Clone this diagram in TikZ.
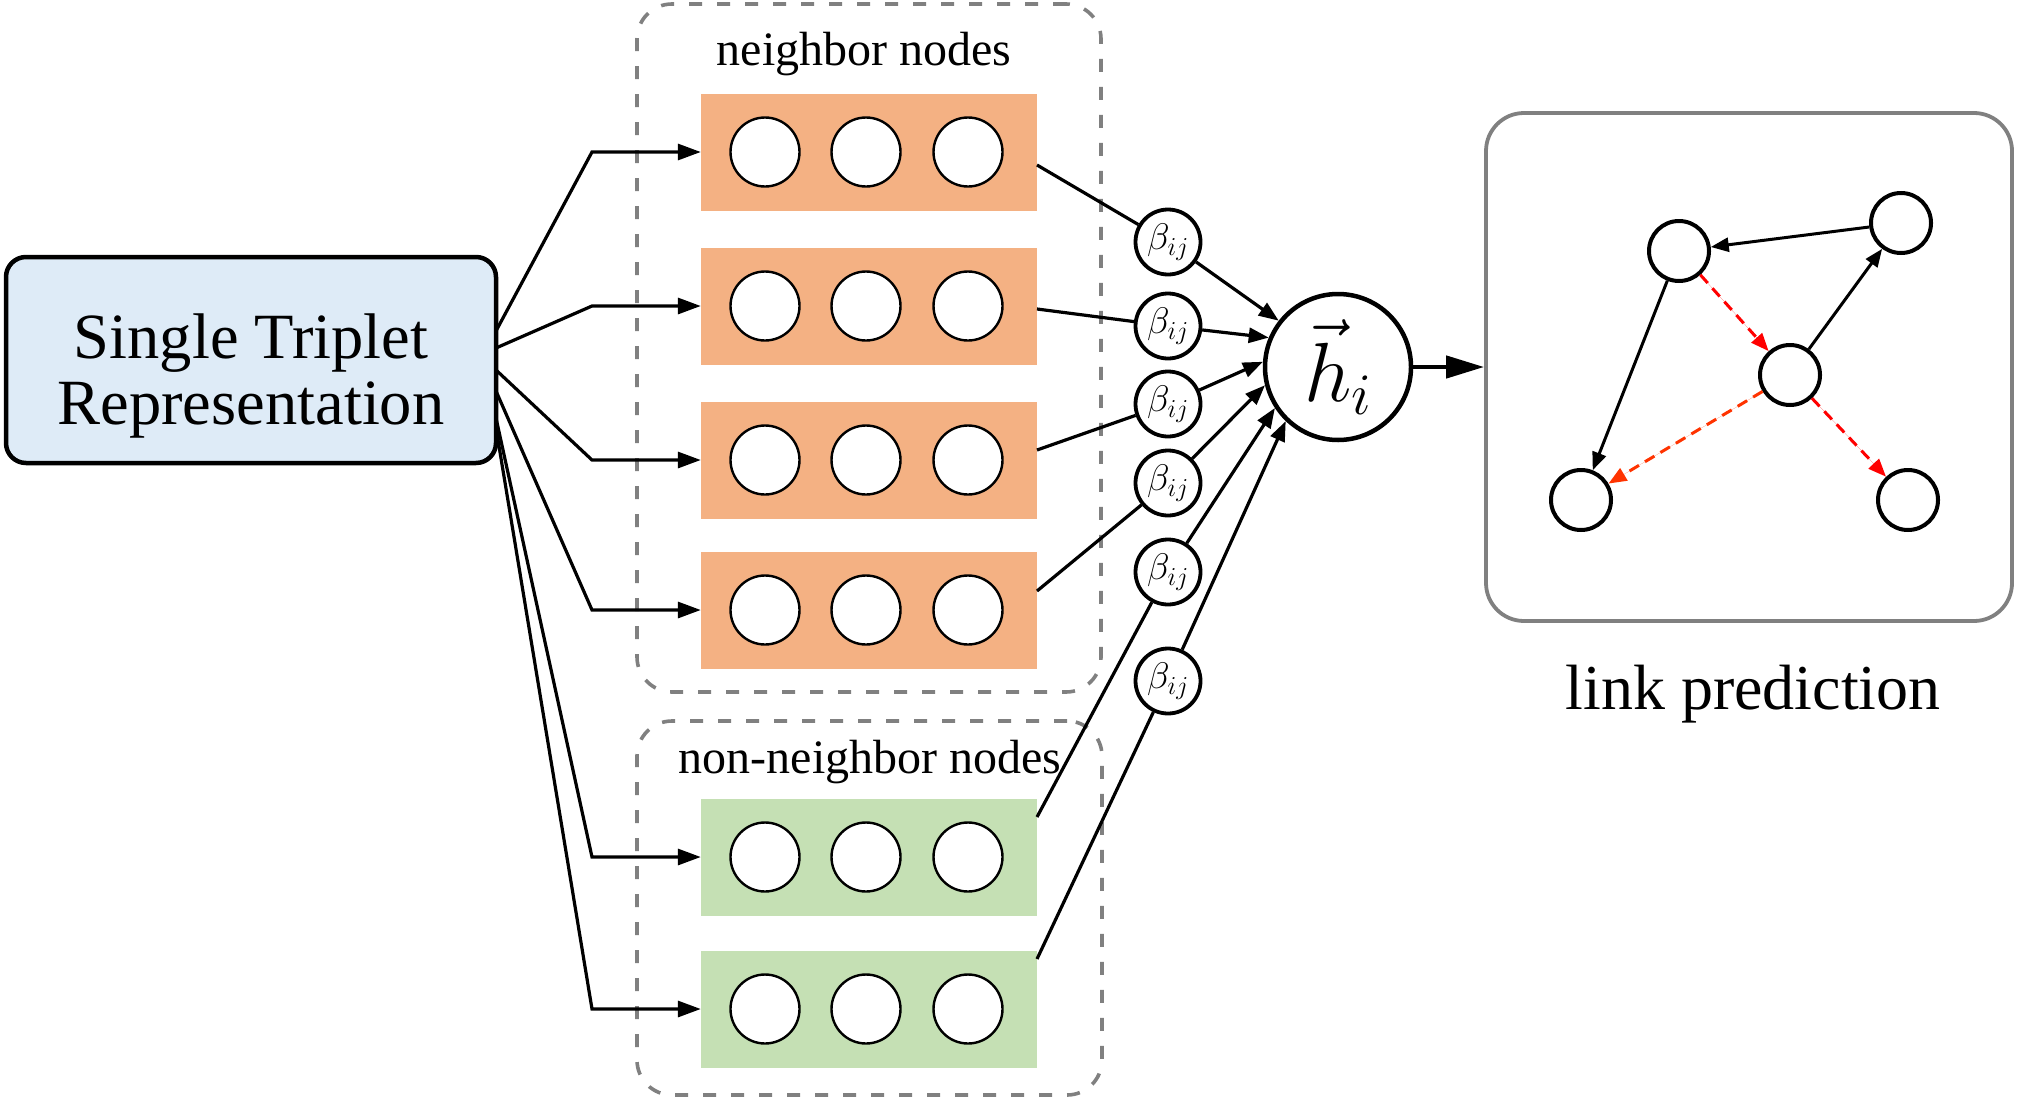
\RequirePackage{fix-cm}
\documentclass[tikz,border=0pt]{standalone}
\usepackage[no-math]{fontspec}
\setmainfont{Liberation Serif}
\usetikzlibrary{arrows.meta,calc}
\definecolor{boxblue}{HTML}{DEEBF7}
\definecolor{orng}{HTML}{F4B183}
\definecolor{grn}{HTML}{C5E0B4}
\definecolor{gry}{HTML}{808080}
\definecolor{redA}{HTML}{FF0000}
\definecolor{redB}{HTML}{FF3300}
\begin{document}
\begin{tikzpicture}[x=1pt,y=-1pt,
  conn/.style={line width=3.2pt},
  arr/.style={conn,-{Triangle[length=23pt,width=16pt]}},
  arrb/.style={conn,-{Triangle[length=20pt,width=15pt]}},
  garr/.style={line width=3pt,-{Triangle[length=18pt,width=14pt]}},
  gdash/.style={garr,dash pattern=on 11pt off 7pt},
  grp/.style={draw=gry,line width=3.6pt,dash pattern=on 13pt off 15pt,rounded corners=35pt,inner sep=0pt},
  lbl/.style={font=\fontsize{48}{56}\selectfont,inner sep=0pt},
  big/.style={font=\fontsize{64.5}{70}\selectfont,inner sep=0pt},
  vecbox/.style={rectangle,minimum width=336pt,minimum height=117pt,inner sep=0pt},
  unit/.style={circle,draw,fill=white,line width=2.4pt,minimum size=69pt,inner sep=0pt},
  bnode/.style={circle,draw,fill=white,line width=3.8pt,minimum size=65pt,inner sep=0pt,font=\fontsize{37}{42}\selectfont},
  gnode/.style={circle,draw,fill=white,line width=4pt,minimum size=60pt,inner sep=0pt}
]
\useasboundingbox (0,0) rectangle (2018,1100);

% dashed groups
\node[grp,minimum width=464pt,minimum height=688pt] (gN) at (869,348) {};
\node[grp,minimum width=465pt,minimum height=374pt] (gO) at (869.5,908) {};
\node[lbl,anchor=base] (tN) at (864,65) {neighbor nodes};
\node[lbl,anchor=base] (tO) at (870,773) {non-neighbor nodes};

% rows
\foreach \n/\y/\c in {r1/152/orng,r2/306/orng,r3/460/orng,r4/610/orng,g1/857/grn,g2/1009/grn}{
  \node[vecbox,fill=\c] (\n) at (869,\y) {};
  \node[unit] (\n-a) at (765,\y) {};
  \node[unit] (\n-b) at (866,\y) {};
  \node[unit] (\n-c) at (968,\y) {};
}

% left box
\node[rectangle,draw,fill=boxblue,line width=4.5pt,rounded corners=20pt,minimum width=490pt,minimum height=206pt,inner sep=0pt] (stb) at (251,360) {};
\node[big,anchor=base] (stb1) at (251,358) {Single Triplet};
\node[big,anchor=base] (stb2) at (251,424) {Representation};

\coordinate (s1) at (496,331);
\coordinate (s2) at (496,348);
\coordinate (s3) at (496,370);
\coordinate (s4) at (496,391);
\coordinate (s5) at (496,418);
\coordinate (s6) at (496,428);
\coordinate (elb) at (592,0);
\foreach \s/\n in {s1/r1,s2/r2,s3/r3,s4/r4,s5/g1,s6/g2}{
  \draw[arr] (\s) -- (\n.west -| elb) -- (\n.west);
}

% h_i
\node[circle,draw,fill=white,line width=4.5pt,minimum size=146pt,inner sep=0pt,font=\fontsize{84}{96}\selectfont] (hi) at (1338,367) {$\vec{h}_i$};

% beta nodes
\node[bnode] (b1) at (1168,242) {$\beta_{ij}$};
\node[bnode] (b2) at (1168,326) {$\beta_{ij}$};
\node[bnode] (b3) at (1168,404) {$\beta_{ij}$};
\node[bnode] (b4) at (1168,483) {$\beta_{ij}$};
\node[bnode] (b5) at (1168,572) {$\beta_{ij}$};
\node[bnode] (b6) at (1168,681) {$\beta_{ij}$};

\coordinate (o1) at (1037,165);
\coordinate (o2) at (1037,309);
\coordinate (o3) at (1037,450);
\coordinate (o4) at (1037,591);
\coordinate (o5) at (1037,817);
\coordinate (o6) at (1037,959);

\foreach \o/\b/\a in {o1/b1/142,o2/b2/157,o3/b3/176,o4/b4/194,o5/b5/213,o6/b6/226}{
  \draw[conn] (\o) -- (\b);
  \draw[arrb] (\b) -- (hi.\a);
}

% link prediction box
\node[rectangle,draw=gry,line width=3.8pt,rounded corners=38pt,minimum width=526pt,minimum height=508pt,inner sep=0pt] (lp) at (1749,367) {};
\draw[line width=4.5pt,-{Triangle[length=38pt,width=22pt]}] (hi) -- (lp);
\node[font=\fontsize{64}{72}\selectfont,inner sep=0pt,anchor=base] (lpt) at (1753,709) {link prediction};

% graph
\node[gnode] (A) at (1679,251) {};
\node[gnode] (B) at (1901,223) {};
\node[gnode] (C) at (1790,375) {};
\node[gnode] (D) at (1581,500) {};
\node[gnode] (E) at (1908,500) {};
\draw[garr] (B) -- (A);
\draw[garr] (A) -- (D);
\draw[garr] (C) -- (B);
\draw[gdash,draw=redA,fill=redA] (A) -- (C);
\draw[gdash,draw=redA,fill=redA] (C) -- (E);
\draw[gdash,draw=redB,fill=redB] (C) -- (D);
\end{tikzpicture}
\end{document}
